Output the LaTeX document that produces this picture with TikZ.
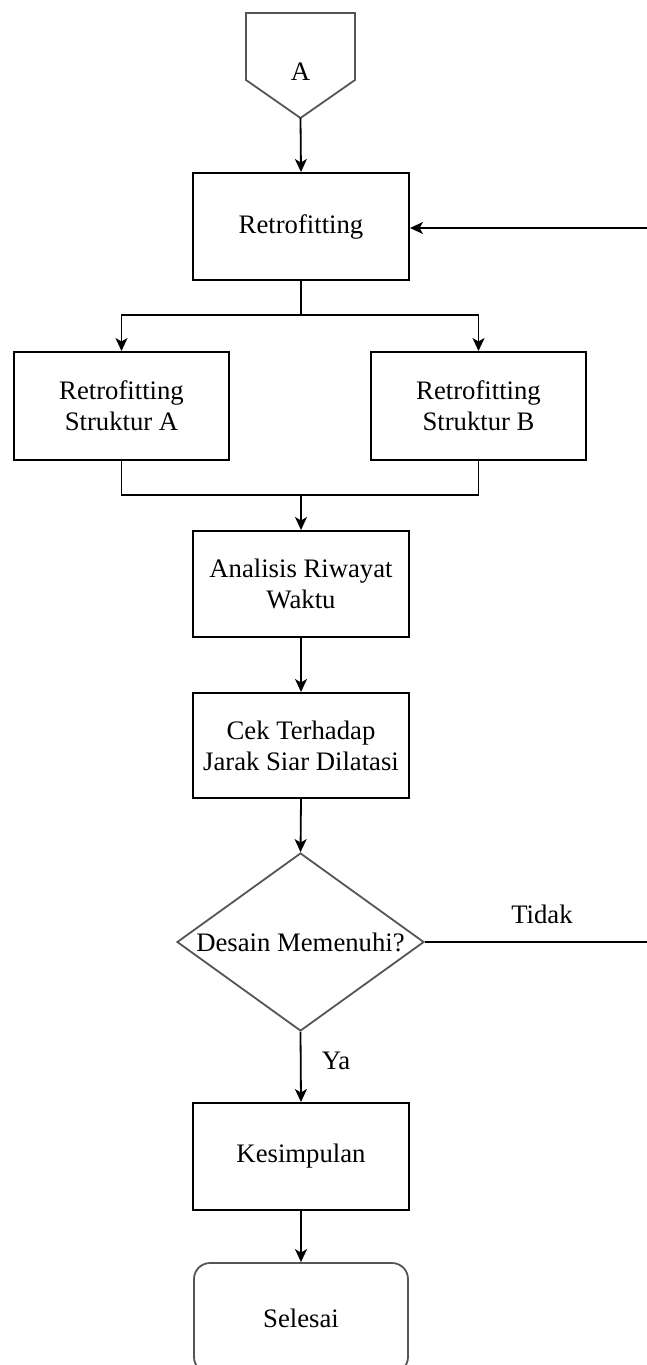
\documentclass[tikz,border=0pt]{standalone}
\usepackage{fontspec}
\setmainfont{Liberation Serif}
\usetikzlibrary{shapes.geometric,arrows.meta}
\definecolor{edgegrey}{HTML}{555555}
\begin{document}
\begin{tikzpicture}[x=1pt,y=1pt,
  every node/.style={font=\fontsize{26.7}{31}\selectfont, align=center, inner sep=0pt},
  procbox/.style={draw=black, line width=2pt, rectangle, minimum width=216pt, minimum height=107pt},
  arr/.style={line width=1.8pt, -{Stealth[length=13pt,width=12pt,inset=3.5pt]}},
  ln/.style={line width=1.8pt}]
\useasboundingbox (0,0) rectangle (646,-1365);
% off-page connector
\draw[edgegrey, line width=1.8pt] (246,-13) -- (355,-13) -- (355,-80) -- (300.5,-118) -- (246,-80) -- cycle;
\node (A) at (300.5,-72) {A};
\coordinate (Atip) at (300.5,-118);
% nodes
\node[procbox] (ret) at (301,-226.5) {Retrofitting};
\node[procbox, minimum width=215pt, minimum height=108pt] (sA) at (121.5,-406) {Retrofitting\\Struktur A};
\node[procbox, minimum width=215pt, minimum height=108pt] (sB) at (478.5,-406) {Retrofitting\\Struktur B};
\node[procbox, minimum height=106pt] (an) at (301,-584) {Analisis Riwayat\\Waktu};
\node[procbox, minimum height=105pt] (cek) at (301,-745.5) {Cek Terhadap\\Jarak Siar Dilatasi};
\node[diamond, draw=edgegrey, line width=1.8pt, minimum width=247pt, minimum height=178pt] (dia) at (300.5,-942) {};
\node (diatext) at (dia.center) {Desain Memenuhi?};
\node[procbox] (kes) at (301,-1156.5) {Kesimpulan};
\node[draw=edgegrey, line width=1.8pt, rounded corners=16pt, minimum width=214pt, minimum height=110pt] (sel) at (301,-1318) {Selesai};
% labels
\node (tidak) at (542,-914) {Tidak};
\node (ya) at (336,-1061) {Ya};
% helper coordinates
\coordinate (split) at (301,-315);
\coordinate (merge) at (301,-495);
\coordinate (loopB) at (660,-942);
\coordinate (loopT) at (660,-228);
% connectors
\draw[arr] (Atip) -- (ret.north);
\draw[ln] (ret.south) -- (split);
\draw[arr] (split) -| (sA.north);
\draw[arr] (split) -| (sB.north);
\draw[ln] (sA.south) |- (merge);
\draw[ln] (sB.south) |- (merge);
\draw[arr] (merge) -- (an.north);
\draw[arr] (an.south) -- (cek.north);
\draw[arr] (cek.south) -- (dia.north);
\draw[arr] (dia.south) -- (kes.north);
\draw[arr] (kes.south) -- (sel.north);
\draw[ln] (dia.east) -- (loopB) -- (loopT);
\draw[arr] (loopT) -- (ret.east |- loopT);
\end{tikzpicture}
\end{document}
